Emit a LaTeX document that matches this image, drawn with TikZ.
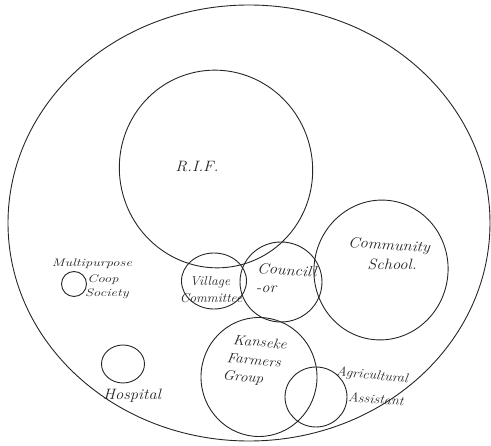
\documentclass[tikz,border=0pt]{standalone}
\usetikzlibrary{shapes.geometric}
\begin{document}
\begin{tikzpicture}[x=1pt,y=-1pt,
  ring/.style={ellipse,draw=black!85,line width=0.9pt,inner sep=0pt},
  hand/.style={font=\itshape\fontsize{15}{16}\selectfont,text=black!85,inner sep=0pt,xscale=1.1},
  small/.style={hand,font=\itshape\fontsize{11}{12}\selectfont,xscale=1.2},
  mid/.style={hand,font=\itshape\fontsize{13}{14}\selectfont}]
\useasboundingbox (0,0) rectangle (491,446);
% outer boundary
\node[ring,minimum width=482pt,minimum height=436pt] (world) at (249,223) {};
% circles
\node[ring,minimum width=193pt,minimum height=198pt,rotate=15] (rif) at (216,169) {};
\node[ring,minimum width=65pt,minimum height=56pt] (village) at (214,281) {};
\node[ring,minimum width=82pt,minimum height=80pt] (council) at (281,282) {};
\node[ring,minimum width=134pt,minimum height=140pt,rotate=-10] (school) at (381,270) {};
\node[ring,minimum width=116pt,minimum height=119pt] (kanseke) at (259,377) {};
\node[ring,minimum width=62pt,minimum height=60pt] (agri) at (316,397) {};
\node[ring,minimum width=25pt,minimum height=25pt] (coop) at (74,284) {};
\node[ring,minimum width=43pt,minimum height=38pt] (hospital) at (123,364) {};
% labels
\node[hand] (trif) at (197,167) {R.I.F.};
\node[small] (tcoop1) at (92,264) {Multipurpose};
\node[small] (tcoop2) at (103,280) {Coop};
\node[small] (tcoop3) at (107,294) {Society};
\node[mid,xscale=0.95] (tvil1) at (210,282) {Village};
\node[mid,xscale=0.95] (tvil2) at (211,298) {Committee};
\node[hand,rotate=-4] (tcou1) at (287,270) {Councill};
\node[hand] (tcou2) at (266,289) {-or};
\node[hand,rotate=-4] (tsch1) at (389,246) {Community};
\node[hand] (tsch2) at (392,264) {School.};
\node[hand,font=\itshape\fontsize{14}{15}\selectfont,rotate=-6] (tkan1) at (260,342) {Kanseke};
\node[hand,font=\itshape\fontsize{14}{15}\selectfont,rotate=-6] (tkan2) at (254,360) {Farmers};
\node[hand,font=\itshape\fontsize{14}{15}\selectfont,rotate=-6] (tkan3) at (243,378) {Group};
\node[hand] (thos) at (132,396) {Hospital};
\node[mid,rotate=-6] (tagr1) at (372,376) {Agricultural};
\node[mid,rotate=-4] (tagr2) at (376,399) {Assistant};
\end{tikzpicture}
\end{document}
